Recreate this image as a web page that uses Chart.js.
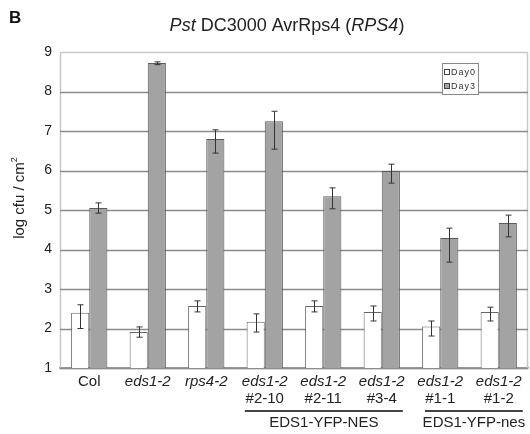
<!DOCTYPE html>
<html><head><meta charset="utf-8">
<script src="https://cdn.jsdelivr.net/npm/chart.js@4"></script>
<style>html,body{margin:0;padding:0;background:#fff}#wrap{width:530px;height:434px;position:relative}</style>
</head><body><div id="wrap"><canvas id="c" width="530" height="434"></canvas></div>
<script>
// ---- data ----
const categories = ['Col','eds1-2','rps4-2','eds1-2 #2-10','eds1-2 #2-11','eds1-2 #3-4','eds1-2 #1-1','eds1-2 #1-2'];
const labelLine1 = ['Col','eds1-2','rps4-2','eds1-2','eds1-2','eds1-2','eds1-2','eds1-2'];
const labelLine1Italic = [false,true,true,true,true,true,true,true];
const labelLine2 = ['','','','#2-10','#2-11','#3-4','#1-1','#1-2'];
const seriesNames = ['Day0','Day3'];
const day0 = [2.40,1.91,2.57,2.17,2.57,2.42,2.05,2.42];
const day0Low = [2.00,1.78,2.42,1.91,2.42,2.19,1.81,2.19];
const day0High = [2.60,2.04,2.70,2.37,2.70,2.57,2.19,2.54];
const day3 = [5.05,8.72,6.80,7.25,5.35,5.99,4.29,4.67];
const day3Low = [4.92,8.68,6.44,6.54,5.03,5.68,3.68,4.32];
const day3High = [5.18,8.75,7.03,7.50,5.56,6.16,4.54,4.87];
const yTicks = [1,2,3,4,5,6,7,8,9];
const groups = [{label:'EDS1-YFP-NES', from:3, to:5},{label:'EDS1-YFP-nes', from:6, to:7}];
const titleParts = [{t:'Pst',i:true},{t:' DC3000 AvrRps4 (',i:false},{t:'RPS4',i:true},{t:')',i:false}];
const panelLetter = 'B';
const yTitle = 'log cfu / cm';
const yTitleSup = '2';

const FONT = '"Liberation Sans", Arial, sans-serif';
const lows = [day0Low, day3Low], highs = [day0High, day3High];

const decor = {
  id:'decor',
  beforeDatasetsDraw(chart){
    const ctx = chart.ctx, a = chart.chartArea, y = chart.scales.y;
    ctx.save();
    ctx.strokeStyle = '#c8c8c8'; ctx.lineWidth = 1.5;
    ctx.strokeRect(a.left+0.5, a.top+0.5, a.right-a.left-1, a.bottom-a.top);
    ctx.strokeStyle = '#8c8c8c'; ctx.lineWidth = 1.5;
    yTicks.forEach(v=>{
      if (v===yTicks[yTicks.length-1]) return;
      const py = Math.round(y.getPixelForValue(v))+0.5;
      ctx.beginPath(); ctx.moveTo(a.left, py); ctx.lineTo(a.right, py); ctx.stroke();
    });
    ctx.restore();
  },
  afterDatasetsDraw(chart){
    const ctx = chart.ctx, y = chart.scales.y, x = chart.scales.x;
    ctx.save();
    // error bars
    ctx.strokeStyle = '#333'; ctx.lineWidth = 1;
    chart.data.datasets.forEach((ds, di)=>{
      const meta = chart.getDatasetMeta(di);
      meta.data.forEach((el, i)=>{
        const px = Math.round(el.x)+0.5;
        const lo = y.getPixelForValue(lows[di][i]), hi = y.getPixelForValue(highs[di][i]);
        ctx.beginPath();
        ctx.moveTo(px, lo); ctx.lineTo(px, hi);
        ctx.moveTo(px-3, hi); ctx.lineTo(px+3, hi);
        ctx.moveTo(px-3, lo); ctx.lineTo(px+3, lo);
        ctx.stroke();
      });
    });
    // panel letter
    ctx.fillStyle = '#111'; ctx.textBaseline = 'middle'; ctx.textAlign = 'left';
    ctx.font = 'bold 17px ' + FONT;
    ctx.fillText(panelLetter, 9, 18);
    // title with italic parts
    ctx.fillStyle = '#222';
    let total = 0;
    titleParts.forEach(p=>{ ctx.font = (p.i?'italic ':'') + '18px ' + FONT; total += ctx.measureText(p.t).width; });
    let tx = 287 - total/2;
    titleParts.forEach(p=>{ ctx.font = (p.i?'italic ':'') + '18px ' + FONT; ctx.fillText(p.t, tx, 26); tx += ctx.measureText(p.t).width; });
    // y title
    ctx.save();
    ctx.translate(20, 198); ctx.rotate(-Math.PI/2);
    ctx.font = '15px ' + FONT;
    const w1 = ctx.measureText(yTitle).width;
    ctx.font = '9px ' + FONT;
    const w2 = ctx.measureText(yTitleSup).width;
    let sx = -(w1+w2)/2;
    ctx.font = '15px ' + FONT; ctx.fillStyle = '#222';
    ctx.fillText(yTitle, sx, 0);
    ctx.font = '9px ' + FONT;
    ctx.fillText(yTitleSup, sx + w1, -5);
    ctx.restore();
    // x labels
    ctx.textAlign = 'center'; ctx.fillStyle = '#222';
    const cw = x.getPixelForValue(1) - x.getPixelForValue(0);
    categories.forEach((c,i)=>{
      const cx = x.getPixelForValue(i);
      ctx.font = (labelLine1Italic[i]?'italic ':'') + '15px ' + FONT;
      ctx.fillText(labelLine1[i], cx, 382);
      if (labelLine2[i]) { ctx.font = '15px ' + FONT; ctx.fillText(labelLine2[i], cx, 399); }
    });
    // group lines
    ctx.strokeStyle = '#444'; ctx.lineWidth = 2;
    groups.forEach((g, gi)=>{
      const x0 = x.getPixelForValue(g.from) - (gi===0?0.34:0.26)*cw;
      const x1 = x.getPixelForValue(g.to) + (gi===0?0.36:0.41)*cw;
      ctx.beginPath(); ctx.moveTo(x0, 411); ctx.lineTo(x1, 411); ctx.stroke();
      ctx.font = '15px ' + FONT;
      ctx.fillText(g.label, (x0+x1)/2, 423);
    });
    // legend
    const lx = 442, ly = 63, lw = 36, lh = 31;
    ctx.fillStyle = '#fff'; ctx.fillRect(lx, ly, lw, lh);
    ctx.strokeStyle = '#888'; ctx.lineWidth = 1;
    ctx.strokeRect(lx+0.5, ly+0.5, lw, lh);
    chart.data.datasets.forEach((ds, di)=>{
      const ry = ly + 9 + di*14;
      ctx.fillStyle = ds.backgroundColor; ctx.fillRect(lx+2.5, ry-2.5, 5, 5);
      ctx.strokeStyle = '#444'; ctx.strokeRect(lx+2.5, ry-2.5, 5, 5);
      ctx.fillStyle = '#333'; ctx.font = '9px ' + FONT; ctx.textAlign = 'left';
      try { ctx.letterSpacing = '1px'; } catch(e) {}
      ctx.fillText(ds.label, lx+9, ry+0.5);
      try { ctx.letterSpacing = '0px'; } catch(e) {}
    });
    ctx.restore();
  }
};

new Chart(document.getElementById('c'), {
  type:'bar',
  data:{
    labels: categories,
    datasets:[
      {label: seriesNames[0], data: day0, backgroundColor:'#ffffff', borderColor:'#666', borderWidth:1},
      {label: seriesNames[1], data: day3, backgroundColor:'#a3a3a3', borderColor:'#5a5a5a', borderWidth:1}
    ]
  },
  options:{
    responsive:false, animation:false,
    layout:{padding:{top:52, right:2, left:0, bottom:0}},
    plugins:{legend:{display:false}, tooltip:{enabled:false}, title:{display:false}},
    datasets:{bar:{categoryPercentage:0.62, barPercentage:1.0}},
    scales:{
      x:{
        grid:{display:false, drawTicks:false},
        border:{display:true, color:'#8c8c8c', width:1.5},
        ticks:{display:false},
        afterFit(s){ s.height = 66; }
      },
      y:{
        min:1, max:9,
        afterBuildTicks(s){ s.ticks = yTicks.map(v=>({value:v})); },
        grid:{display:false, drawTicks:false},
        border:{display:false},
        ticks:{font:{size:14, family:FONT}, color:'#222', padding:8},
        afterFit(s){ s.width = 60; }
      }
    }
  },
  plugins:[decor]
});
</script></body></html>
